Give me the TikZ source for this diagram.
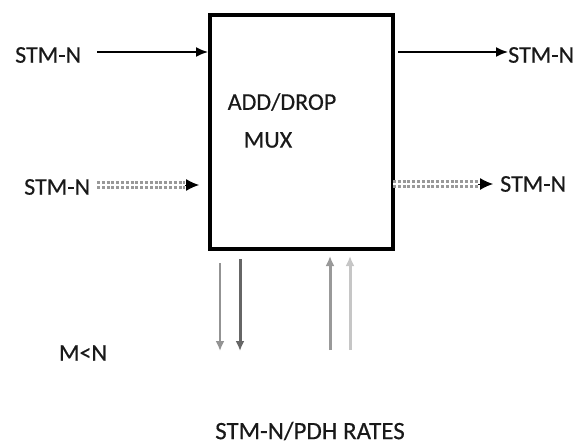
\documentclass[tikz,border=0pt]{standalone}
\usepackage{fontspec}
\setmainfont{Carlito}[FakeBold=0.4]
\usetikzlibrary{arrows.meta}
\begin{document}
\begin{tikzpicture}[x=1pt,y=-1pt,
  lbl/.style={font=\fontsize{24}{26}\selectfont, text=black!90, inner sep=0pt},
  solidarrow/.style={line width=1.6pt, -{Latex[length=12pt,width=10pt]}},
  dotbody/.style={draw=gray!80, line width=8pt, dash pattern=on 3pt off 1.8pt},
  dotmid/.style={draw=white, line width=1.8pt},
  tip/.style={line width=1pt, -{Latex[length=13pt,width=12pt]}},
  vert/.style={line width=3pt, -{Latex[length=10pt,width=9pt]}}]
\useasboundingbox (0,0) rectangle (578,444);
% box
\node[draw, line width=4pt, minimum width=183pt, minimum height=234pt, inner sep=0pt, anchor=north west] (mux) at (208,13) {};
\node[lbl] (t1) at (282,102) {ADD/DROP};
\node[lbl] (t2) at (268,140) {MUX};
% labels
\node[lbl, anchor=west] (inA) at (15,55) {STM-N};
\node[lbl, anchor=west] (outA) at (508,55) {STM-N};
\node[lbl, anchor=west] (inB) at (24,187) {STM-N};
\node[lbl, anchor=west] (outB) at (500,184) {STM-N};
\node[lbl] (m) at (83,353) {M<N};
\node[lbl, font=\fontsize{25}{27}\selectfont] (rates) at (310,431) {STM-N/PDH RATES};
% top arrows
\coordinate (a1) at (97,52);
\draw[solidarrow] (a1) -- (a1 -| mux.west);
\coordinate (a2) at (398,52);
\draw[solidarrow] (a2) -- (outA.west |- a2);
% dotted arrows
\coordinate (b1) at (97,185);
\coordinate (b1e) at (185,185);
\coordinate (b1t) at (199,185);
\draw[dotbody] (b1) -- (b1e);
\draw[dotmid] (b1) -- (b1e);
\draw[tip] (b1e) -- (b1t);
\coordinate (b2) at (393,184);
\coordinate (b2e) at (478,184);
\coordinate (b2t) at (493,184);
\draw[dotbody] (b2) -- (b2e);
\draw[dotmid] (b2) -- (b2e);
\draw[tip] (b2e) -- (b2t);
% bottom arrows
\coordinate (d1s) at (220,263); \coordinate (d1e) at (220,351);
\coordinate (d2s) at (240,259); \coordinate (d2e) at (240,351);
\coordinate (u1s) at (330,350); \coordinate (u1e) at (330,256);
\coordinate (u2s) at (350,350); \coordinate (u2e) at (350,256);
\draw[vert, draw=gray!85, line width=2.4pt] (d1s) -- (d1e);
\draw[vert, draw=black!60] (d2s) -- (d2e);
\draw[vert, draw=gray!80] (u1s) -- (u1e);
\draw[vert, draw=gray!45] (u2s) -- (u2e);
\end{tikzpicture}
\end{document}
